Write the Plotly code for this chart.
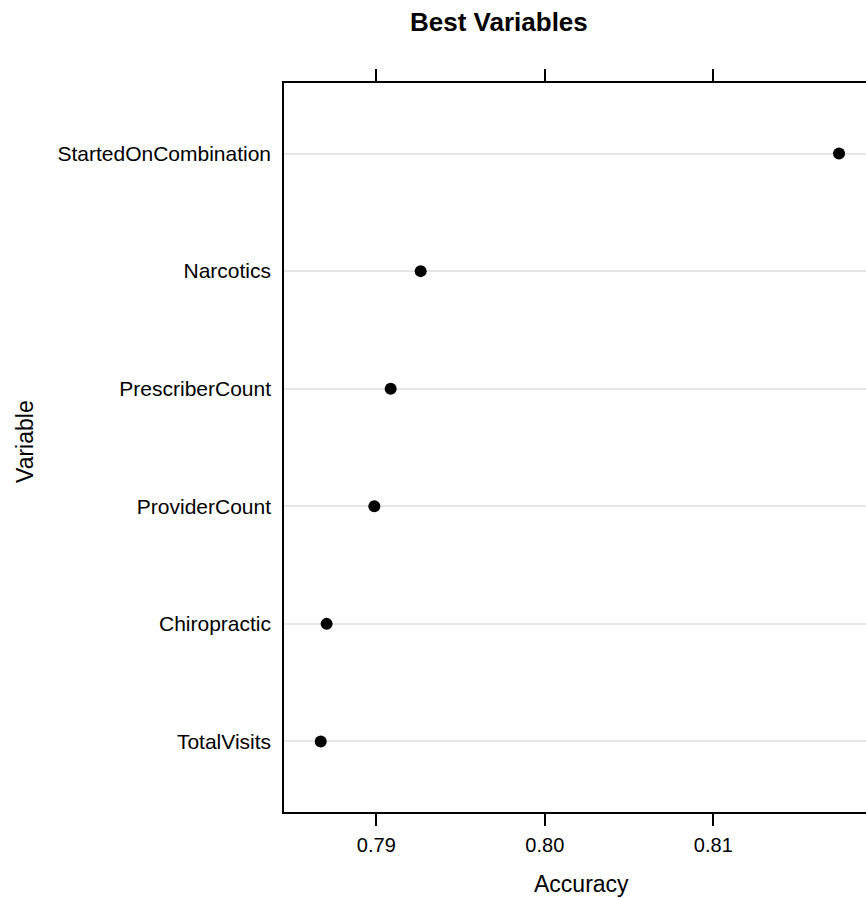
import plotly.graph_objects as go

# Variable importance: accuracy per predictor (bottom to top)
variables = ["TotalVisits", "Chiropractic", "ProviderCount",
             "PrescriberCount", "Narcotics", "StartedOnCombination"]
accuracy = [0.78670, 0.78705, 0.78988, 0.79085, 0.79263, 0.81746]

x_ticks = [0.79, 0.80, 0.81]
x_tick_labels = ["0.79", "0.80", "0.81"]

FONT = "Liberation Sans, Arial, Helvetica, sans-serif"

fig = go.Figure(
    go.Scatter(
        x=accuracy,
        y=variables,
        mode="markers",
        marker=dict(color="black", size=12, symbol="circle"),
        hoverinfo="x+y",
    )
)

fig.update_layout(
    width=866,
    height=898,
    margin=dict(l=284, r=0, t=83, b=86),
    paper_bgcolor="white",
    plot_bgcolor="white",
    showlegend=False,
    font=dict(family=FONT, color="black"),
    annotations=[
        dict(text="<b>Best Variables</b>", x=499, y=22, showarrow=False,
             font=dict(size=26, family=FONT)),
        dict(text="Accuracy", x=581, y=884, showarrow=False,
             font=dict(size=23, family=FONT)),
        dict(text="Variable", x=25, y=442, showarrow=False, textangle=-90,
             font=dict(size=23, family=FONT)),
    ],
)

# Annotations above are placed in pixel terms; convert to paper coordinates
W, H = 866, 898
L, R, T, B = 284, 0, 83, 86
pw, ph = W - L - R, H - T - B
for a in fig.layout.annotations:
    px, py = a.x, a.y
    a.x = (px - L) / pw
    a.y = (H - B - py) / ph
    a.xref = "paper"
    a.yref = "paper"
    a.xanchor = "center"
    a.yanchor = "middle"

fig.update_xaxes(
    range=[0.78452, 0.81906],
    tickvals=x_ticks,
    ticktext=x_tick_labels,
    ticks="outside",
    ticklen=12,
    tickwidth=1.5,
    tickcolor="black",
    showline=True,
    linecolor="black",
    linewidth=1.5,
    mirror="ticks",
    showgrid=False,
    zeroline=False,
    ticklabelstandoff=2,
    tickfont=dict(size=20, family=FONT),
)

fig.update_yaxes(
    type="category",
    categoryorder="array",
    categoryarray=variables,
    range=[-0.6, 5.6],
    ticks="",
    showline=True,
    linecolor="black",
    linewidth=1.5,
    mirror=False,
    showgrid=True,
    gridcolor="#e6e6e6",
    gridwidth=1.5,
    zeroline=False,
    ticklabelstandoff=7,
    tickfont=dict(size=21, family=FONT),
)

fig.write_html("out.html")
